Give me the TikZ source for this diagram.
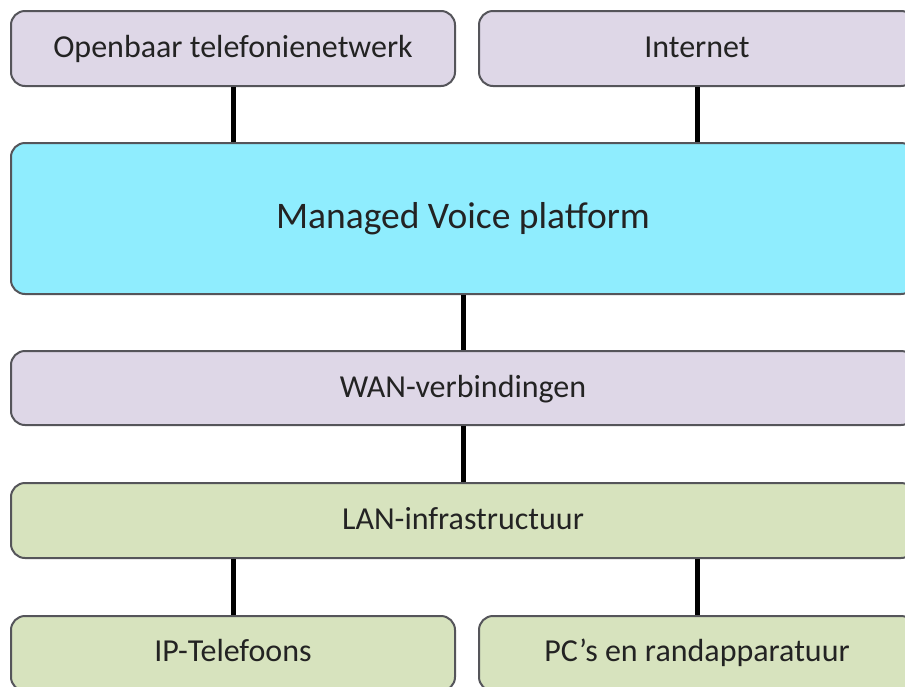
\documentclass[tikz,border=0pt]{standalone}
\usepackage{fontspec}
\setmainfont{Carlito}
\definecolor{lav}{RGB}{222,215,231}
\definecolor{cyanbox}{RGB}{143,237,254}
\definecolor{greenbox}{RGB}{215,227,190}
\definecolor{edge}{RGB}{85,85,90}
\definecolor{txt}{RGB}{35,35,35}
\tikzset{
  box/.style={draw=edge, line width=2pt, rounded corners=14pt, inner sep=0pt,
    text=txt, font=\fontsize{32}{36}\selectfont, text height=24pt, text depth=6pt},
  link/.style={line width=5pt, draw=black},
}
\begin{document}
\begin{tikzpicture}[x=1pt,y=-1pt]
\useasboundingbox (0,0) rectangle (905,686);
\clip (0,0) rectangle (905,686);
\fill[white] (0,0) rectangle (905,686);
\node[box, fill=lav, minimum width=444pt, minimum height=75pt] (ptn) at (233,48.5) {Openbaar telefonienetwerk};
\node[box, fill=lav, minimum width=436pt, minimum height=75pt] (inet) at (697,48.5) {Internet};
\node[box, fill=cyanbox, minimum width=904pt, minimum height=151pt, font=\fontsize{37.5}{42}\selectfont, text height=28pt, text depth=9pt] (mv) at (463,218.5) {Managed Voice platform};
\node[box, fill=lav, minimum width=904pt, minimum height=74pt] (wan) at (463,388) {WAN-verbindingen};
\node[box, fill=greenbox, minimum width=904pt, minimum height=75pt] (lan) at (463,520.5) {LAN-infrastructuur};
\node[box, fill=greenbox, minimum width=444pt, minimum height=75pt, text height=22pt, text depth=7pt] (ip) at (233,653.5) {IP-Telefoons};
\node[box, fill=greenbox, minimum width=436pt, minimum height=75pt, text height=22pt, text depth=7pt] (pc) at (697,653.5) {PC’s en randapparatuur};
\draw[link] (ptn.south) -- (ptn.south |- mv.north);
\draw[link] (inet.south) -- (inet.south |- mv.north);
\draw[link] (mv.south) -- (wan.north);
\draw[link] (wan.south) -- (lan.north);
\draw[link] (ip.north |- lan.south) -- (ip.north);
\draw[link] (pc.north |- lan.south) -- (pc.north);
\end{tikzpicture}
\end{document}
